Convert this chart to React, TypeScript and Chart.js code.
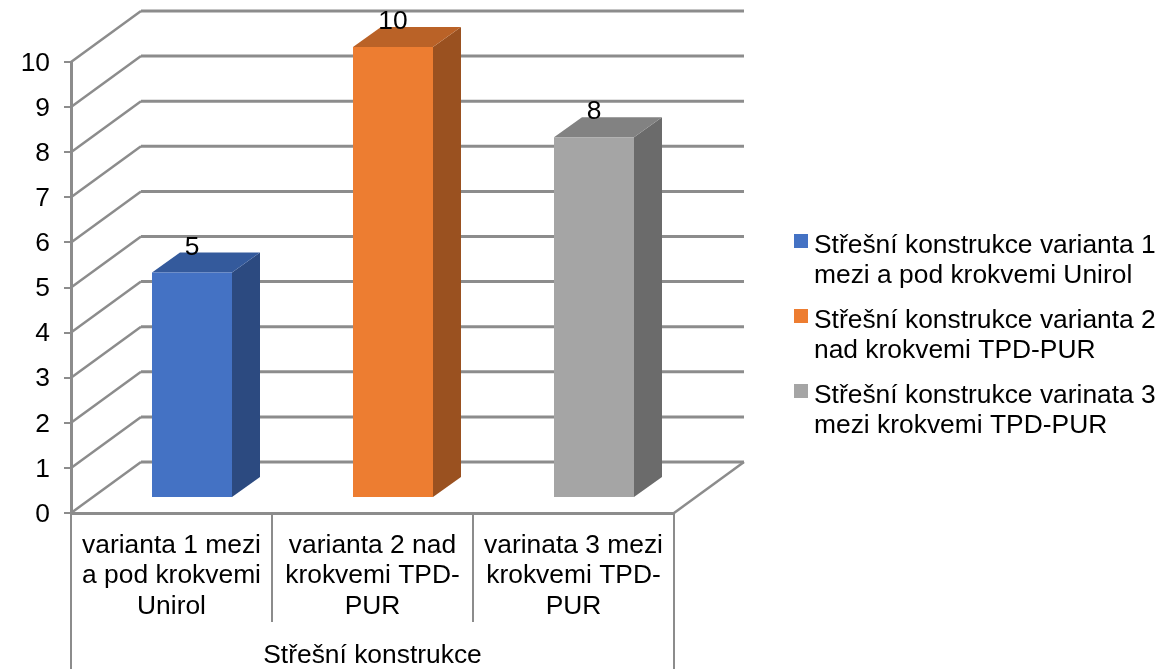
import React, { useEffect, useRef } from "react";
import { Chart, registerables } from "chart.js";

Chart.register(...registerables);

const FONT = '"Liberation Sans", Arial, sans-serif';
const FONT_SIZE = 26.4;
const categories = [
  ["varianta 1 mezi", "a pod krokvemi", "Unirol"],
  ["varianta 2 nad", "krokvemi TPD-", "PUR"],
  ["varinata 3 mezi", "krokvemi TPD-", "PUR"],
];
const groupLabel = "Střešní konstrukce";
const values = [5, 10, 8];
const frontColors = ["#4472C4", "#ED7D31", "#A5A5A5"];
const sideColors = ["#2C4A80", "#9A5120", "#6B6B6B"];
const topColors = ["#345A9C", "#BA6227", "#828282"];
const legendLines = [
  ["Střešní konstrukce varianta 1", "mezi a pod krokvemi Unirol"],
  ["Střešní konstrukce varianta 2", "nad krokvemi TPD-PUR"],
  ["Střešní konstrukce varinata 3", "mezi krokvemi TPD-PUR"],
];
const yTicks = [0, 1, 2, 3, 4, 5, 6, 7, 8, 9, 10];

const GRID = "#8C8C8C";
const WALL_DX = 70;
const WALL_DY = -51;
const BAR_DX = 28;
const BAR_DY = -20;
const BAR_SHIFT_X = 20.5;
const BAR_SHIFT_Y = -15;

const threeD = {
  id: "threeD",
  beforeDraw(chart: any) {
    chart.scales.y.getLabelItems().forEach((item: any) => {
      item.options.translation = [item.options.translation[0], item.options.translation[1] + 1.5];
    });
  },
  beforeDatasetsDraw(chart: any) {
    const { ctx, scales, chartArea } = chart;
    const y = scales.y;
    ctx.save();
    ctx.strokeStyle = GRID;
    ctx.lineCap = "butt";
    // back wall grid and left wall diagonals
    yTicks.forEach((t) => {
      const py = y.getPixelForValue(t);
      ctx.lineWidth = 3;
      ctx.beginPath();
      ctx.moveTo(chartArea.left + WALL_DX, py + WALL_DY);
      ctx.lineTo(chartArea.right + WALL_DX, py + WALL_DY);
      ctx.stroke();
      ctx.lineWidth = 2.5;
      ctx.beginPath();
      ctx.moveTo(chartArea.left, py);
      ctx.lineTo(chartArea.left + WALL_DX, py + WALL_DY);
      ctx.stroke();
    });
    // floor's right edge
    ctx.lineWidth = 2.5;
    ctx.beginPath();
    ctx.moveTo(chartArea.right, chartArea.bottom);
    ctx.lineTo(chartArea.right + WALL_DX, chartArea.bottom + WALL_DY);
    ctx.stroke();
    ctx.restore();

    // bar side and top faces, computed from the bar elements
    const meta = chart.getDatasetMeta(0);
    ctx.save();
    meta.data.forEach((bar: any, i: number) => {
      const hw = bar.width / 2;
      const l = bar.x - hw + BAR_SHIFT_X;
      const r = bar.x + hw + BAR_SHIFT_X;
      const t = bar.y + BAR_SHIFT_Y;
      const b = bar.base + BAR_SHIFT_Y;
      ctx.fillStyle = sideColors[i];
      ctx.beginPath();
      ctx.moveTo(r, t);
      ctx.lineTo(r + BAR_DX, t + BAR_DY);
      ctx.lineTo(r + BAR_DX, b + BAR_DY);
      ctx.lineTo(r, b);
      ctx.closePath();
      ctx.fill();
      ctx.fillStyle = topColors[i];
      ctx.beginPath();
      ctx.moveTo(l, t);
      ctx.lineTo(l + BAR_DX, t + BAR_DY);
      ctx.lineTo(r + BAR_DX, t + BAR_DY);
      ctx.lineTo(r, t);
      ctx.closePath();
      ctx.fill();
    });
    ctx.restore();
    // the front faces are drawn by the library, moved onto the floor
    ctx.save();
    ctx.translate(BAR_SHIFT_X, BAR_SHIFT_Y);
  },
  afterDatasetsDraw(chart: any) {
    const { ctx, chartArea, height } = chart;
    ctx.restore();
    const meta = chart.getDatasetMeta(0);
    ctx.save();
    // value labels
    ctx.font = `${FONT_SIZE}px ${FONT}`;
    ctx.fillStyle = "#000";
    ctx.textAlign = "center";
    ctx.textBaseline = "middle";
    meta.data.forEach((bar: any, i: number) => {
      ctx.fillText(String(values[i]), bar.x + BAR_SHIFT_X, bar.y + BAR_SHIFT_Y - 25);
    });
    // outer separators of the grouped axis
    ctx.strokeStyle = GRID;
    ctx.lineWidth = 2;
    [chartArea.left, chartArea.right].forEach((x: number) => {
      ctx.beginPath();
      ctx.moveTo(x, chartArea.bottom);
      ctx.lineTo(x, height);
      ctx.stroke();
    });
    // legend
    ctx.textAlign = "left";
    ctx.textBaseline = "alphabetic";
    ctx.font = `${FONT_SIZE}px ${FONT}`;
    legendLines.forEach((lines, i) => {
      const base = 253 + i * 75;
      ctx.fillStyle = frontColors[i];
      ctx.fillRect(794, base - 19, 14, 14);
      ctx.fillStyle = "#000";
      lines.forEach((line, j) => ctx.fillText(line, 814, base + j * 29.5));
    });
    ctx.restore();
  },
};

export default function App() {
  const ref = useRef<HTMLCanvasElement>(null);
  useEffect(() => {
    const chart = new Chart(ref.current as HTMLCanvasElement, {
      type: "bar",
      data: {
        labels: categories as any,
        datasets: [
          {
            data: values,
            backgroundColor: frontColors,
            barPercentage: 0.398,
            categoryPercentage: 1,
            clip: false as any,
          },
        ],
      },
      options: {
        responsive: false,
        animation: false,
        layout: { padding: { top: 62, right: 487, left: 0, bottom: 0 } },
        plugins: { legend: { display: false }, tooltip: { enabled: false } },
        scales: {
          x: {
            afterFit(scale: any) {
              scale.height = 156;
            },
            border: { color: GRID, width: 3 },
            grid: {
              offset: true,
              drawOnChartArea: false,
              drawTicks: true,
              tickLength: 109,
              color: GRID,
              lineWidth: 2,
            },
            ticks: {
              autoSkip: false,
              maxRotation: 0,
              minRotation: 0,
              padding: -92,
              color: "#000",
              font: { family: FONT, size: FONT_SIZE, lineHeight: 1.165 },
            },
            title: {
              display: true,
              text: groupLabel,
              color: "#000",
              font: { family: FONT, size: FONT_SIZE, lineHeight: 1 },
              padding: { top: 0, bottom: 0 },
            },
          },
          y: {
            min: 0,
            max: 10,
            afterFit(scale: any) {
              scale.width = 71;
            },
            border: { color: GRID, width: 3 },
            grid: {
              drawOnChartArea: false,
              drawTicks: true,
              tickLength: 7,
              color: GRID,
              lineWidth: 2,
            },
            ticks: {
              stepSize: 1,
              padding: 14,
              color: "#000",
              font: { family: FONT, size: FONT_SIZE },
            },
          },
        },
      },
      plugins: [threeD],
    });
    return () => chart.destroy();
  }, []);
  return (
    <div style={{ position: "absolute", left: 0, top: 0, width: 1161, height: 669, background: "#fff" }}>
      <canvas ref={ref} width={1161} height={669} style={{ display: "block" }} />
    </div>
  );
}
